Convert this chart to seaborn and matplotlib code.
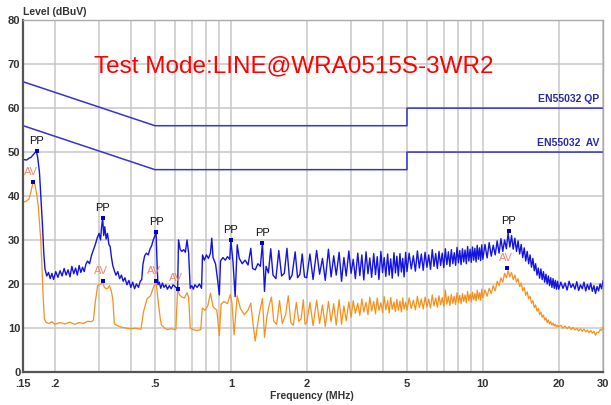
import numpy as np
import pandas as pd
import matplotlib
matplotlib.use('Agg')
import matplotlib.pyplot as plt
import seaborn as sns

# limit lines (EN55032, conducted, class B)
lim_freq = [0.15, 0.5, 5, 5, 30]
qp_level = [66, 56, 56, 60, 60]
av_level = [56, 46, 46, 50, 50]

# PP trace, low band (MHz, dBuV)
pp_low_freq = [0.150, 0.155, 0.158, 0.161, 0.165, 0.169, 0.171, 0.174, 0.177, 0.179,
               0.181, 0.183, 0.186, 0.189, 0.192, 0.195, 0.198, 0.202, 0.206, 0.210,
               0.214, 0.218, 0.222, 0.226, 0.230, 0.234, 0.238, 0.242, 0.246, 0.250,
               0.254, 0.258, 0.262, 0.266, 0.270, 0.275, 0.280, 0.285, 0.290, 0.295,
               0.300, 0.304, 0.307, 0.310, 0.313, 0.316, 0.320, 0.324, 0.328, 0.332,
               0.336, 0.340, 0.345, 0.350, 0.356, 0.362, 0.368, 0.374, 0.380, 0.387,
               0.394, 0.401, 0.408, 0.415, 0.422, 0.430, 0.437, 0.443, 0.448, 0.455,
               0.462, 0.470, 0.478, 0.485, 0.492, 0.500, 0.505, 0.510, 0.514, 0.520,
               0.527, 0.535, 0.543, 0.552, 0.560, 0.570, 0.580, 0.590, 0.605, 0.615,
               0.620, 0.630, 0.640, 0.650, 0.660, 0.670, 0.680, 0.690, 0.700, 0.710,
               0.720, 0.735, 0.750, 0.765, 0.772, 0.785, 0.800, 0.815, 0.830, 0.840,
               0.850, 0.870, 0.890, 0.900, 0.910, 0.930, 0.950, 0.970, 0.990, 1.000,
               1.020, 1.040, 1.060, 1.080, 1.110, 1.140, 1.170, 1.200, 1.220, 1.250,
               1.280, 1.310, 1.335, 1.350, 1.360, 1.380, 1.410, 1.440, 1.470, 1.510,
               1.550, 1.590, 1.630, 1.670, 1.710, 1.750, 1.800, 1.840, 1.880, 1.920,
               1.960]
pp_low_level = [48.3, 48.2, 48.6, 48.8, 49.5, 50.2, 49.0, 45.4, 38.0, 33.0,
                27.0, 23.4, 21.8, 22.6, 21.2, 22.4, 21.0, 22.8, 21.5, 23.0,
                21.8, 23.5, 22.0, 23.2, 21.6, 24.0, 22.3, 23.6, 22.0, 24.2,
                22.6, 23.8, 22.8, 24.5, 25.2, 24.6, 26.5, 27.8, 29.0, 30.5,
                31.5, 30.0, 33.0, 35.0, 31.0, 33.0, 30.2, 31.5, 29.0, 28.5,
                26.0, 24.2, 23.0, 22.0, 22.8, 21.2, 22.0, 20.6, 21.4, 19.8,
                20.8, 19.2, 20.4, 18.9, 20.0, 19.2, 20.6, 21.0, 24.5, 26.4,
                27.0, 26.6, 28.0, 28.7, 30.0, 31.0, 31.8, 24.0, 19.8, 20.4,
                19.0, 20.2, 19.2, 19.8, 18.8, 19.6, 18.9, 19.8, 19.2, 19.0,
                30.0, 27.8, 27.4, 27.8, 27.2, 30.0, 27.0, 19.0, 19.6, 18.8,
                19.8, 19.2, 20.0, 19.0, 26.6, 25.4, 26.6, 25.8, 27.0, 30.4,
                26.0, 24.5, 20.0, 17.5, 25.2, 26.0, 25.4, 26.2, 25.6, 30.0,
                25.0, 17.1, 28.9, 25.8, 24.6, 25.4, 24.3, 28.1, 23.5, 23.2,
                24.6, 24.0, 29.3, 23.0, 18.3, 24.0, 22.5, 28.0, 22.0, 21.2,
                27.6, 21.8, 22.4, 28.1, 21.0, 22.0, 27.3, 21.4, 22.2, 26.8,
                21.6]

# AV trace, low band
av_low_freq = [0.150, 0.154, 0.158, 0.161, 0.164, 0.167, 0.170, 0.172, 0.174, 0.176,
               0.178, 0.180, 0.182, 0.185, 0.190, 0.195, 0.200, 0.210, 0.220, 0.230,
               0.240, 0.250, 0.260, 0.270, 0.280, 0.285, 0.290, 0.296, 0.305, 0.310,
               0.315, 0.320, 0.325, 0.330, 0.335, 0.340, 0.345, 0.352, 0.365, 0.380,
               0.400, 0.420, 0.440, 0.450, 0.465, 0.480, 0.495, 0.505, 0.515, 0.525,
               0.530, 0.545, 0.560, 0.580, 0.605, 0.615, 0.625, 0.640, 0.655, 0.670,
               0.680, 0.690, 0.710, 0.730, 0.760, 0.770, 0.790, 0.810, 0.830, 0.850,
               0.880, 0.900, 0.915, 0.940, 0.970, 0.995, 1.010, 1.030, 1.060, 1.090,
               1.130, 1.170, 1.200, 1.230, 1.250, 1.290, 1.335, 1.360, 1.390, 1.420,
               1.450, 1.480, 1.520, 1.560, 1.600, 1.650, 1.690, 1.730, 1.770, 1.820,
               1.860, 1.900, 1.940, 1.970]
av_low_level = [38.6, 38.8, 39.3, 41.0, 43.1, 42.6, 40.0, 37.8, 34.0, 30.2,
                24.0, 17.0, 12.0, 11.2, 11.0, 11.4, 10.8, 11.2, 10.9, 11.3,
                10.8, 11.2, 11.0, 11.5, 11.4, 11.8, 16.0, 19.6, 20.0, 20.4,
                19.2, 18.9, 19.0, 19.6, 18.5, 16.6, 10.9, 10.6, 10.2, 10.0,
                9.8, 9.9, 9.7, 13.6, 16.6, 17.3, 19.5, 20.4, 16.0, 12.0,
                10.7, 10.0, 9.6, 9.8, 9.6, 19.0, 17.5, 17.0, 16.8, 18.0,
                17.0, 9.9, 9.6, 9.4, 9.6, 14.5, 14.0, 15.0, 17.9, 14.8,
                14.0, 8.2, 15.4, 16.0, 15.5, 17.6, 15.8, 8.4, 17.3, 14.5,
                13.0, 14.0, 15.6, 10.0, 7.0, 12.5, 16.7, 7.8, 12.5, 15.2,
                17.0, 11.5, 10.8, 16.2, 11.0, 13.0, 17.3, 11.2, 10.6, 15.8,
                11.5, 12.0, 16.4, 10.8]

# high band, shared frequencies for both traces
hf_freq = [2.0, 2.06, 2.12, 2.19, 2.25, 2.31, 2.37, 2.44, 2.5, 2.56, 2.62, 2.69,
           2.75, 2.81, 2.87, 2.94, 3.0, 3.06, 3.12, 3.19, 3.25, 3.31, 3.37, 3.44,
           3.5, 3.56, 3.62, 3.69, 3.75, 3.81, 3.87, 3.94, 4.0, 4.06, 4.12, 4.19,
           4.25, 4.31, 4.37, 4.44, 4.5, 4.56, 4.62, 4.69, 4.75, 4.81, 4.87, 4.94,
           5.0, 5.1, 5.2, 5.3, 5.4, 5.5, 5.6, 5.7, 5.8, 5.9, 6.0, 6.1, 6.2, 6.3,
           6.4, 6.5, 6.6, 6.7, 6.8, 6.9, 7.0, 7.1, 7.2, 7.3, 7.4, 7.5, 7.6, 7.7,
           7.8, 7.9, 8.0, 8.1, 8.2, 8.3, 8.4, 8.5, 8.6, 8.7, 8.8, 8.9, 9.0, 9.1,
           9.2, 9.3, 9.4, 9.5, 9.6, 9.7, 9.8, 9.9,
           10.0, 10.2, 10.4, 10.6, 10.8, 11.0, 11.2, 11.4, 11.6, 11.8, 12.0, 12.2,
           12.4, 12.6, 12.8, 13.0, 13.2, 13.4, 13.6, 13.8, 14.0, 14.2, 14.4, 14.6,
           14.8, 15.0, 15.2, 15.4, 15.6, 15.8, 16.0, 16.2, 16.4, 16.6, 16.8, 17.0,
           17.2, 17.4, 17.6, 17.8, 18.0, 18.2, 18.4, 18.6, 18.8, 19.0, 19.2, 19.4,
           19.6, 19.8,
           20.0, 20.4, 20.8, 21.2, 21.6, 22.0, 22.4, 22.8, 23.2, 23.6, 24.0, 24.4,
           24.8, 25.2, 25.6, 26.0, 26.4, 26.8, 27.2, 27.6, 28.0, 28.4, 28.8, 29.2,
           29.6, 30.0]
pp_hf_level = [21.4, 26.8, 21.0, 27.6, 22.2, 25.8, 20.8, 27.9, 21.6, 26.4, 22.0, 27.2,
               20.6, 26.0, 21.8, 27.5, 22.4, 25.6, 21.2, 27.0, 21.9, 26.6, 20.9, 27.3,
               22.3, 25.9, 21.5, 26.9, 22.1, 26.2, 21.0, 27.4, 22.6, 26.0, 21.7, 26.8,
               22.0, 25.7, 21.3, 27.1, 22.5, 26.3, 21.8, 26.9, 22.7, 25.8, 21.6, 27.2,
               22.8, 27.0, 23.4, 26.4, 22.9, 27.5, 23.6, 26.8, 23.1, 27.2, 23.8, 26.6,
               23.3, 27.8, 24.0, 26.9, 23.5, 27.4, 24.2, 27.0, 23.7, 28.0, 24.4, 27.3,
               24.0, 27.8, 24.6, 27.1, 24.2, 28.3, 24.8, 27.6, 24.4, 28.0, 25.0, 27.7,
               24.6, 28.5, 25.2, 27.9, 24.9, 28.4, 25.4, 28.1, 25.0, 28.8, 25.6, 28.2,
               25.3, 28.9,
               25.6, 29.0, 25.9, 29.4, 26.3, 28.8, 26.6, 29.8, 27.0, 30.3, 27.4, 30.0,
               28.0, 31.6, 28.4, 31.0, 27.9, 30.4, 27.4, 29.8, 26.8, 29.0, 26.0, 28.2,
               25.2, 27.4, 24.6, 26.6, 23.8, 25.8, 23.0, 24.6, 22.0, 23.6, 21.3, 23.4,
               21.0, 22.8, 20.4, 22.2, 20.0, 21.8, 19.6, 21.4, 19.2, 21.2, 19.0, 20.8,
               18.8, 20.6,
               18.8, 20.4, 19.0, 20.2, 18.6, 20.6, 19.2, 20.0, 18.8, 20.5, 18.5, 19.8,
               18.9, 20.4, 18.4, 19.9, 18.7, 20.2, 18.3, 19.6, 17.8, 19.4, 18.4, 20.0,
               18.9, 20.8]
av_hf_level = [11.2, 15.8, 10.5, 16.3, 11.0, 15.2, 10.3, 16.0, 11.4, 15.5, 10.6, 16.4,
               10.8, 15.0, 11.6, 15.9, 12.4, 16.2, 13.3, 15.6, 12.8, 16.6, 13.6, 15.8,
               13.0, 17.0, 13.8, 16.0, 13.2, 16.8, 14.0, 15.7, 13.5, 17.1, 14.1, 16.2,
               13.4, 16.9, 14.2, 15.9, 13.7, 16.5, 14.0, 16.1, 13.6, 16.8, 14.3, 15.8,
               14.0, 16.8, 14.4, 16.3, 14.1, 17.2, 14.6, 16.6, 14.3, 17.0, 14.8, 16.5,
               14.5, 17.5, 15.0, 16.8, 14.7, 17.3, 15.2, 16.9, 14.9, 18.6, 15.4, 17.1,
               15.1, 17.6, 15.6, 17.2, 15.3, 18.0, 15.8, 17.4, 15.5, 17.8, 16.0, 17.5,
               15.7, 18.3, 16.2, 17.7, 15.9, 18.1, 16.4, 17.8, 16.1, 18.6, 16.6, 18.0,
               16.3, 18.8,
               16.8, 18.6, 17.2, 19.0, 17.8, 19.6, 18.4, 20.6, 19.6, 21.4, 20.4, 22.4,
               21.4, 23.0, 21.6, 22.6, 21.0, 22.0, 20.4, 21.2, 19.4, 20.2, 18.4, 19.2,
               17.4, 18.2, 16.6, 17.2, 15.6, 16.2, 14.6, 15.2, 13.8, 14.4, 13.0, 13.6,
               12.4, 12.9, 11.8, 12.3, 11.2, 11.8, 10.9, 11.4, 10.6, 11.1, 10.4, 10.8,
               10.2, 10.6,
               10.2, 10.6, 9.9, 10.4, 9.8, 10.3, 9.6, 10.1, 9.5, 9.9, 9.3, 9.8,
               9.2, 9.7, 9.1, 9.5, 8.9, 9.4, 8.8, 9.2, 8.3, 9.0, 8.9, 9.6,
               9.4, 10.2]

# peak markers
pp_mark_freq = [0.17, 0.31, 0.505, 1.0, 1.335, 12.7]
pp_mark_level = [50.2, 35.0, 31.8, 30.0, 29.3, 32.0]
av_mark_freq = [0.164, 0.31, 0.505, 0.615, 12.5]
av_mark_level = [43.1, 20.6, 20.6, 18.9, 23.6]

x_ticks = [0.15, 0.2, 0.5, 1, 2, 5, 10, 20, 30]
x_tick_labels = ['.15', '.2', '.5', '1', '2', '5', '10', '20', '30']
x_minor = [0.3, 0.4, 0.6, 0.7, 0.8, 0.9, 3, 4, 6, 7, 8, 9]

pp = pd.DataFrame({'freq': pp_low_freq + hf_freq, 'level': pp_low_level + pp_hf_level})
av = pd.DataFrame({'freq': av_low_freq + hf_freq, 'level': av_low_level + av_hf_level})
lim = pd.DataFrame({'freq': lim_freq, 'qp': qp_level, 'av': av_level})

sns.set_style('whitegrid')
plt.rcParams['font.family'] = ['Liberation Sans', 'DejaVu Sans']

fig = plt.figure(figsize=(6.11, 4.05), dpi=100)
ax = fig.add_axes([0.038, 0.082, 0.949, 0.868])

sns.lineplot(data=lim, x='freq', y='qp', ax=ax, color='#3535c8', lw=1.1, sort=False, estimator=None)
sns.lineplot(data=lim, x='freq', y='av', ax=ax, color='#3535c8', lw=1.1, sort=False, estimator=None)
sns.lineplot(data=av, x='freq', y='level', ax=ax, color='#f7901e', lw=0.9, sort=False, estimator=None)
sns.lineplot(data=pp, x='freq', y='level', ax=ax, color='#1414e0', lw=1.0, sort=False, estimator=None)
sns.scatterplot(x=pp_mark_freq, y=pp_mark_level, ax=ax, marker='s', s=12, color='#0000cc', linewidth=0, zorder=5)
sns.scatterplot(x=av_mark_freq, y=av_mark_level, ax=ax, marker='s', s=12, color='#0000cc', linewidth=0, zorder=5)

for f, v in zip(pp_mark_freq, pp_mark_level):
    ax.text(f, v + 1.2, 'PP', ha='center', va='bottom', fontsize=8, color='#111111')
for f, v in zip(av_mark_freq, av_mark_level):
    ax.text(f * 0.985, v + 1.2, 'AV', ha='center', va='bottom', fontsize=8, color='#f0876a')

ax.text(29.0, 61.0, 'EN55032 QP', ha='right', va='bottom', fontsize=7.5, fontweight='bold', color='#2b2ba8')
ax.text(29.0, 51.0, 'EN55032  AV', ha='right', va='bottom', fontsize=7.5, fontweight='bold', color='#2b2ba8')

ax.set_xscale('log')
ax.set_xlim(0.15, 30)
ax.set_ylim(0, 80)
ax.set_xticks(x_ticks)
ax.set_xticklabels(x_tick_labels)
ax.set_xticks(x_minor, minor=True)
ax.xaxis.set_minor_formatter(matplotlib.ticker.NullFormatter())
ax.set_yticks(range(0, 81, 10))
ax.grid(which='both', color='#c8c8c8', lw=1.1)
ax.tick_params(which='both', length=0, labelsize=8, labelcolor='#333333')
ax.tick_params(axis='y', pad=2)
ax.tick_params(axis='x', pad=5)
for lab in ax.get_xticklabels() + ax.get_yticklabels():
    lab.set_fontweight('bold')
ax.set_xlabel('')
ax.set_ylabel('')
for side in ['left', 'bottom']:
    ax.spines[side].set_color('#555555')
    ax.spines[side].set_linewidth(1.6)
for side in ['top', 'right']:
    ax.spines[side].set_color('#aaaaaa')
    ax.spines[side].set_linewidth(1.0)

fig.text(0.038, 0.97, 'Level (dBuV)', ha='left', va='center', fontsize=7.5, fontweight='bold', color='#333333')
fig.text(0.51, 0.022, 'Frequency (MHz)', ha='center', va='center', fontsize=7.5, fontweight='bold', color='#333333')
fig.text(0.48, 0.835, 'Test Mode:LINE@WRA0515S-3WR2', ha='center', va='center', fontsize=17.5, color='#ff0000')

fig.savefig('out.png', dpi=100)
